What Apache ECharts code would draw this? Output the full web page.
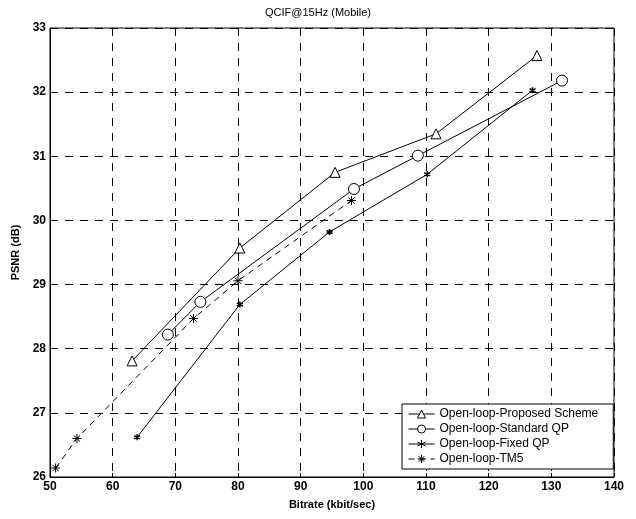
<!DOCTYPE html>
<html>
<head>
<meta charset="UTF-8">
<title>QCIF@15Hz (Mobile)</title>
<script type="text/javascript" src="https://cdn.jsdelivr.net/npm/echarts@6/dist/echarts.min.js"></script>
<style>
html, body { margin: 0; padding: 0; background: #fff; }
#main { width: 636px; height: 519px; }
</style>
</head>
<body>
<div id="main"></div>
<script type="text/javascript">
// 数据
var seriesNames = ['Open-loop-Proposed Scheme', 'Open-loop-Standard QP', 'Open-loop-Fixed QP', 'Open-loop-TM5'];

var proposedX = [63.1, 80.3, 95.5, 111.6, 127.7];
var proposedY = [27.81, 29.57, 30.75, 31.35, 32.57];

var standardX = [68.8, 74.0, 98.5, 108.7, 131.7];
var standardY = [28.22, 28.73, 30.49, 31.01, 32.18];

var fixedX = [63.9, 80.3, 94.6, 110.2, 127.0];
var fixedY = [26.62, 28.69, 29.82, 30.72, 32.03];

var tm5X = [50.9, 54.3, 72.9, 80.0, 98.1];
var tm5Y = [26.14, 26.60, 28.47, 29.06, 30.31];

var xTicks = [50, 60, 70, 80, 90, 100, 110, 120, 130, 140];
var yTicks = [26, 27, 28, 29, 30, 31, 32, 33];

function pairs(xs, ys) {
    var out = [];
    for (var i = 0; i < xs.length; i++) {
        out.push([xs[i], ys[i]]);
    }
    return out;
}

// 星号标记
var starPath = 'path://M0,-5L0,5M-4.3,-2.5L4.3,2.5M-4.3,2.5L4.3,-2.5';
var plusPath = 'path://M0,-5L0,5M-5,0L5,0M-3.5,-3.5L3.5,3.5M-3.5,3.5L3.5,-3.5';

var font = 'Liberation Sans, Arial, sans-serif';

var myChart = echarts.init(document.getElementById('main'), null, { renderer: 'canvas' });

var option = {
    backgroundColor: '#fff',
    animation: false,
    textStyle: { fontFamily: font, color: '#000' },
    title: {
        text: 'QCIF@15Hz (Mobile)',
        left: 'center',
        top: 2,
        textStyle: { fontSize: 11, fontWeight: 'normal', color: '#000', fontFamily: font }
    },
    grid: {
        left: 50,
        right: 22,
        top: 28,
        bottom: 42,
        show: true,
        borderColor: '#000',
        borderWidth: 1
    },
    legend: {
        orient: 'vertical',
        left: 402,
        top: 404,
        itemWidth: 26,
        itemHeight: 10,
        itemGap: 3,
        padding: [4, 15, 4, 6],
        backgroundColor: '#fff',
        borderColor: '#000',
        borderWidth: 1,
        borderRadius: 0,
        lineStyle: { width: 1 },
        itemStyle: { borderWidth: 1 },
        textStyle: { fontSize: 12, color: '#000', fontFamily: font },
        data: seriesNames
    },
    xAxis: {
        type: 'value',
        min: xTicks[0],
        max: xTicks[xTicks.length - 1],
        interval: 10,
        name: 'Bitrate (kbit/sec)',
        nameLocation: 'middle',
        nameGap: 22,
        nameTextStyle: { fontSize: 11, fontWeight: 'bold', color: '#000', fontFamily: font },
        axisLine: { lineStyle: { color: '#000', width: 1 } },
        axisTick: { inside: true, length: 4, lineStyle: { color: '#000' } },
        axisLabel: { fontSize: 12, fontWeight: 'bold', color: '#000', margin: 4, fontFamily: font },
        splitLine: { show: true, lineStyle: { color: '#000', type: [8, 7], width: 1 } }
    },
    yAxis: {
        type: 'value',
        min: yTicks[0],
        max: yTicks[yTicks.length - 1],
        interval: 1,
        name: 'PSNR (dB)',
        nameLocation: 'middle',
        nameGap: 28,
        nameTextStyle: { fontSize: 11, fontWeight: 'bold', color: '#000', fontFamily: font },
        axisLine: { show: true, lineStyle: { color: '#000', width: 1 } },
        axisTick: { show: true, inside: true, length: 4, lineStyle: { color: '#000' } },
        axisLabel: { fontSize: 12, fontWeight: 'bold', color: '#000', margin: 4, fontFamily: font },
        splitLine: { show: true, lineStyle: { color: '#000', type: [8, 7], width: 1 } }
    },
    series: [
        {
            name: seriesNames[0],
            type: 'line',
            data: pairs(proposedX, proposedY),
            symbol: 'triangle',
            symbolSize: 10,
            lineStyle: { color: '#000', width: 1 },
            itemStyle: { color: '#fff', borderColor: '#000', borderWidth: 1 }
        },
        {
            name: seriesNames[1],
            type: 'line',
            data: pairs(standardX, standardY),
            symbol: 'circle',
            symbolSize: 11,
            lineStyle: { color: '#000', width: 1 },
            itemStyle: { color: '#fff', borderColor: '#000', borderWidth: 1 }
        },
        {
            name: seriesNames[2],
            type: 'line',
            data: pairs(fixedX, fixedY),
            symbol: starPath,
            symbolSize: 6,
            lineStyle: { color: '#000', width: 1 },
            itemStyle: { color: '#000', borderColor: '#000', borderWidth: 1.5 }
        },
        {
            name: seriesNames[3],
            type: 'line',
            data: pairs(tm5X, tm5Y),
            symbol: plusPath,
            symbolSize: 9,
            lineStyle: { color: '#000', width: 1, type: [6, 5] },
            itemStyle: { color: '#000', borderColor: '#000', borderWidth: 1 }
        }
    ]
};

myChart.setOption(option);
</script>
</body>
</html>
